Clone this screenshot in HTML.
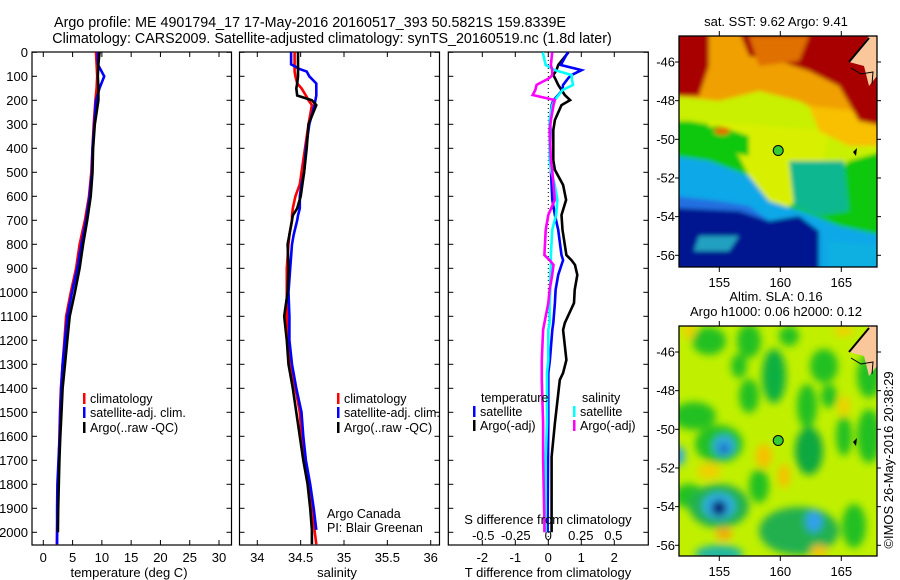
<!DOCTYPE html>
<html><head><meta charset="utf-8"><style>
html,body{margin:0;padding:0;background:#fff;}
svg{display:block;font-family:"Liberation Sans","DejaVu Sans",sans-serif;}
text{fill:#000;}
</style></head><body>
<svg id="fig" width="900" height="580" viewBox="0 0 900 580" xmlns="http://www.w3.org/2000/svg">
<defs>
<filter id="b1" x="-20%" y="-20%" width="140%" height="140%"><feGaussianBlur stdDeviation="2"/></filter>
<filter id="b2" x="-50%" y="-50%" width="200%" height="200%"><feGaussianBlur stdDeviation="4"/></filter>
<clipPath id="cm1"><rect x="679" y="36" width="198" height="231"/></clipPath>
<clipPath id="cm2"><rect x="679" y="326" width="198" height="230"/></clipPath>
<clipPath id="cp1"><rect x="32" y="52" width="200" height="493"/></clipPath>
<clipPath id="cp2"><rect x="240" y="52" width="200" height="493"/></clipPath>
<clipPath id="cp3"><rect x="448" y="52" width="200" height="493"/></clipPath>
</defs>
<text x="310" y="27" font-size="14.3" text-anchor="middle">Argo profile: ME 4901794_17 17-May-2016 20160517_393 50.5821S 159.8339E</text>
<text x="332" y="43" font-size="14.3" text-anchor="middle">Climatology: CARS2009. Satellite-adjusted climatology: synTS_20160519.nc (1.8d later)</text>
<g id="p1"></g>
<g id="p2"></g>
<g id="p3"></g>
<g id="m1"></g>
<g id="m2"></g>
<text x="776" y="26" font-size="13" text-anchor="middle">sat. SST: 9.62 Argo: 9.41</text>
<text x="776" y="301" font-size="13" text-anchor="middle">Altim. SLA: 0.16</text>
<text x="776" y="316" font-size="13" text-anchor="middle">Argo h1000: 0.06 h2000: 0.12</text>
<text transform="translate(893,460) rotate(-90)" font-size="13" text-anchor="middle">©IMOS 26-May-2016 20:38:29</text>
</svg>
<script>
// ---------- data ----------
const depthTicks=[0,100,200,300,400,500,600,700,800,900,1000,1100,1200,1300,1400,1500,1600,1700,1800,1900,2000];
const tempTicks=[0,5,10,15,20,25,30];
const salTicks=[34,34.5,35,35.5,36];
const tdiffTicks=[-2,-1,0,1,2];
const sdiffTicks=[-0.5,-0.25,0,0.25,0.5];
const sdiffLabels=["-0.5","-0.25","0","0.25","0.5"];
const tDepth=[0,50,100,150,200,300,400,500,600,700,800,900,1000,1100,1200,1300,1400,1500,1600,1700,1800,1900,2000,2050];
const tClim=[9.0,9.1,9.2,9.1,8.9,8.6,8.4,8.2,7.8,7.1,6.2,5.6,4.7,3.9,3.6,3.3,3.0,2.85,2.75,2.65,2.55,2.45,2.35,2.3];
const tSat=[9.3,9.3,10.4,9.6,9.0,8.7,8.4,8.3,7.9,7.3,6.5,5.8,4.9,4.1,3.7,3.3,3.05,2.9,2.8,2.6,2.4,2.35,2.35,2.35];
const tArgo=[9.6,9.4,9.3,9.4,9.4,8.8,8.5,8.4,8.1,7.5,6.8,6.2,5.4,4.5,4.1,3.7,3.3,3.1,2.9,2.75,2.65,2.55,2.5,2.5];
const sDepth=[0,50,70,80,100,130,150,180,200,220,300,400,500,550,600,650,680,700,760,800,900,1000,1100,1200,1300,1400,1500,1600,1700,1800,1900,1990,2050];
const sClim=[34.43,34.43,34.43,34.43,34.44,34.46,34.51,34.56,34.59,34.63,34.59,34.55,34.51,34.49,34.44,34.41,34.40,34.40,34.37,34.36,34.34,34.34,34.34,34.36,34.38,34.44,34.49,34.51,34.55,34.60,34.63,34.66,34.68];
const sSat=[34.39,34.39,34.49,34.57,34.60,34.68,34.68,34.68,34.67,34.66,34.60,34.56,34.54,34.51,34.49,34.49,34.47,34.46,34.42,34.40,34.38,34.36,34.37,34.37,34.40,34.45,34.51,34.53,34.56,34.61,34.65,34.68,34.68];
const sArgo=[34.47,34.47,34.47,34.47,34.47,34.46,34.45,34.46,34.63,34.68,34.59,34.57,34.54,34.52,34.50,34.46,34.41,34.40,34.37,34.35,34.36,34.35,34.31,34.34,34.36,34.41,34.45,34.49,34.53,34.58,34.61,34.63,34.63];
const dDepthT=[0,53,74,95,107,136,157,178,199,220,282,324,450,490,553,615,678,740,845,866,886,928,990,1045,1128,1157,1282,1336,1365,1545,1686,1961,2000];
const dTsat=[0.59,0.38,1.01,0.7,0.61,0.45,0.42,0.3,0.16,0.1,0.06,0.06,0.06,0.08,0.1,0.12,0.2,0.3,0.4,0.45,0.4,0.3,0.22,0.2,0.15,0.12,0.05,0.0,0.0,0.0,-0.01,-0.02,-0.02];
const dTargo=[0.61,0.30,0.25,0.15,0.2,0.3,0.4,0.5,0.66,0.4,0.2,0.15,0.15,0.2,0.45,0.54,0.4,0.43,0.55,0.7,0.81,0.88,0.8,0.78,0.5,0.45,0.55,0.45,0.35,0.2,0.1,0.1,0.1];
const dSsat=[-0.043,-0.02,0.05,0.18,0.18,0.19,0.11,0.08,0.05,0.03,0.01,0.01,0.01,0.02,0.05,0.07,0.06,0.03,0.02,0.02,0.02,0.015,0.015,0.01,0.01,0.0,0.0,-0.01,-0.01,-0.01,-0.02,-0.02,-0.02];
const dSargo=[0.03,0.02,0.03,0.03,0.01,-0.09,-0.1,-0.12,0.05,0.04,0.02,0.01,0.02,0.03,0.04,0.05,0.0,-0.02,-0.03,0.01,0.04,0.03,0.01,0.0,-0.03,-0.04,-0.05,-0.05,-0.05,-0.04,-0.04,-0.03,-0.03];
const lonTicks=[155,160,165];
const latTicks=[-46,-48,-50,-52,-54,-56];
const argoLon=[159.83];
const argoLat=[-50.58];

// ---------- helpers ----------
const NS="http://www.w3.org/2000/svg";
function mk(parent,tag,attrs,txt){const e=document.createElementNS(NS,tag);for(const k in attrs)e.setAttribute(k,attrs[k]);if(txt!==undefined)e.textContent=txt;parent.appendChild(e);return e;}
const Y0=52.3, YS=0.24, TOP=52, BOT=545;
const yD=d=>Y0+d*YS;
const xT=v=>43.3+v*5.857;
const xS=v=>257.3+(v-34)*86.7;
const xDT=v=>548.3+v*33;
const xDS=v=>548.3+v*130;
const FS=13;

function frame(g,x0,x1,showLabels){
  const r=mk(g,'rect',{x:x0,y:TOP,width:x1-x0,height:BOT-TOP,fill:'none',stroke:'#000','stroke-width':1.2});
  
  
  depthTicks.forEach(d=>{
    const y=yD(d);
    mk(g,'line',{x1:x0,x2:x0+5,y1:y,y2:y,stroke:'#000'});
    mk(g,'line',{x1:x1-5,x2:x1,y1:y,y2:y,stroke:'#000'});
    if(showLabels){
      const t=mk(g,'text',{x:28,y:y+4.5,'font-size':FS,'text-anchor':'end'},String(d));
      
      
    }
  });
}
function xticks(g,vals,fx,labels,ly){
  vals.forEach((v,i)=>{
    const x=fx(v);
    mk(g,'line',{x1:x,x2:x,y1:BOT,y2:BOT-5,stroke:'#000'});
    mk(g,'line',{x1:x,x2:x,y1:TOP,y2:TOP+5,stroke:'#000'});
    const t=mk(g,'text',{x:x,y:ly,'font-size':FS,'text-anchor':'middle'},labels?labels[i]:String(v));
    
    
  });
}
function line(g,xs,ds,fx,col,name,clip){
  const pts=xs.map((v,i)=>fx(v).toFixed(1)+','+yD(ds[i]).toFixed(1)).join(' ');
  const p=mk(g,'polyline',{points:pts,fill:'none',stroke:col,'stroke-width':2.6,'stroke-linejoin':'miter','clip-path':'url(#'+clip+')'});
  
  
}
function legend(g,x,y,col,label,name){
  mk(g,'rect',{x:x,y:y-10,width:2.5,height:11,fill:col});
  const t=mk(g,'text',{x:x+7,y:y,'font-size':12.5},label);
  
  
}

// ---------- panel 1: temperature ----------
const p1=document.getElementById('p1');
frame(p1,32,231.5,true);
xticks(p1,tempTicks,xT,null,562);
line(p1,tClim,tDepth,xT,'#f00','temp-climatology-line','cp1');
line(p1,tSat,tDepth,xT,'#00f','temp-satellite-line','cp1');
line(p1,tArgo,tDepth.slice(0,23),xT,'#000','temp-argo-line','cp1');
legend(p1,83,403,'#f00','climatology','legend-climatology');
legend(p1,83,417,'#00f','satellite-adj. clim.','legend-satellite');
legend(p1,83,432,'#000','Argo(..raw -QC)','legend-argo');
mk(p1,'text',{x:129,y:577,'font-size':FS,'text-anchor':'middle'},'temperature (deg C)');

// ---------- panel 2: salinity ----------
const p2=document.getElementById('p2');
frame(p2,239.5,439.5,false);
xticks(p2,salTicks,xS,null,562);
line(p2,sClim,sDepth,xS,'#f00','sal-climatology-line','cp2');
line(p2,sSat,sDepth.slice(0,32),xS,'#00f','sal-satellite-line','cp2');
line(p2,sArgo,sDepth,xS,'#000','sal-argo-line','cp2');
legend(p2,337,403,'#f00','climatology','legend-climatology-2');
legend(p2,337,417,'#00f','satellite-adj. clim.','legend-satellite-2');
legend(p2,337,432,'#000','Argo(..raw -QC)','legend-argo-2');
mk(p2,'text',{x:327,y:518,'font-size':12.5},'Argo Canada');
mk(p2,'text',{x:327,y:532,'font-size':12.5},'PI: Blair Greenan');
mk(p2,'text',{x:337,y:577,'font-size':FS,'text-anchor':'middle'},'salinity');

// ---------- panel 3: differences ----------
const p3=document.getElementById('p3');
frame(p3,448.3,648.3,false);
xticks(p3,tdiffTicks,xDT,null,562);
sdiffTicks.forEach((v,i)=>{
  const t=mk(p3,'text',{x:xDS(v),y:540,'font-size':FS,'text-anchor':'middle'},sdiffLabels[i]);
  
  
});
mk(p3,'line',{x1:548.3,x2:548.3,y1:TOP,y2:BOT,stroke:'#000','stroke-dasharray':'1,3'});
line(p3,dTargo,dDepthT,xDT,'#000','tdiff-argo-line','cp3');
line(p3,dTsat,dDepthT,xDT,'#00f','tdiff-satellite-line','cp3');
line(p3,dSsat,dDepthT,xDS,'#0ff','sdiff-satellite-line','cp3');
line(p3,dSargo,dDepthT,xDS,'#f0f','sdiff-argo-line','cp3');
mk(p3,'text',{x:481,y:402,'font-size':12.5},'temperature');
mk(p3,'text',{x:582,y:402,'font-size':12.5},'salinity');
legend(p3,473,416,'#00f','satellite','legend-tdiff-satellite');
legend(p3,473,430,'#000','Argo(-adj)','legend-tdiff-argo');
legend(p3,573,416,'#0ff','satellite','legend-sdiff-satellite');
legend(p3,573,430,'#f0f','Argo(-adj)','legend-sdiff-argo');
mk(p3,'text',{x:548,y:524,'font-size':FS,'text-anchor':'middle'},'S difference from climatology');
mk(p3,'text',{x:548,y:577,'font-size':FS,'text-anchor':'middle'},'T difference from climatology');

// ---------- maps ----------
const MX=679,MW=198;
const lonX=l=>719.3+(l-155)*12.2;
function mapAxes(g,top,h,clip){
  const latY=la=>top+26+(-46-la)*19.33;
  mk(g,'rect',{x:MX,y:top,width:MW,height:h,fill:'none',stroke:'#000','stroke-width':1.3});
  lonTicks.forEach(l=>{
    const x=lonX(l);
    mk(g,'line',{x1:x,x2:x,y1:top-5,y2:top,stroke:'#000'});
    mk(g,'line',{x1:x,x2:x,y1:top+h,y2:top+h+5,stroke:'#000'});
    const t=mk(g,'text',{x:x,y:top+h+20,'font-size':FS,'text-anchor':'middle'},String(l));
    
    
  });
  latTicks.forEach(la=>{
    const y=latY(la);
    mk(g,'line',{x1:MX-4,x2:MX,y1:y,y2:y,stroke:'#000'});
    mk(g,'line',{x1:MX+MW,x2:MX+MW+4,y1:y,y2:y,stroke:'#000'});
    const t=mk(g,'text',{x:MX-4,y:y+4.5,'font-size':FS,'text-anchor':'end'},String(la));
    
    
  });
  const c=mk(g,'circle',{cx:lonX(argoLon[0]),cy:latY(argoLat[0]),r:5,fill:'#3c3',stroke:'#000','stroke-width':1});
  
  
}
function coast(g,top){
  mk(g,'polygon',{points:`${MX+170},${top+26} ${MX+190},${top} ${MX+198},${top} ${MX+198},${top+40} ${MX+190},${top+50} ${MX+185},${top+30}`,fill:'#f9c79a'});
  mk(g,'polyline',{points:`${MX+170},${top+26} ${MX+180},${top+14} ${MX+190},${top+2}`,fill:'none',stroke:'#000','stroke-width':2});
  mk(g,'polyline',{points:`${MX+172},${top+32} ${MX+182},${top+38} ${MX+194},${top+36} ${MX+193},${top+48}`,fill:'none',stroke:'#000','stroke-width':1});
  mk(g,'polygon',{points:`${MX+174},${top+116} ${MX+178},${top+112} ${MX+177},${top+120}`,fill:'#000'});
}
// SST map
const m1=document.getElementById('m1');
const g1=mk(m1,'g',{'clip-path':'url(#cm1)'});
const g1b=mk(g1,'g',{filter:'url(#b1)'});
const T1=36;
const P=(pts)=>pts.map(p=>(MX+p[0])+','+(T1+p[1])).join(' ');
mk(g1b,'rect',{x:MX-5,y:T1-5,width:MW+10,height:241,fill:'#10c810'});
mk(g1b,'polygon',{points:P([[-5,-5],[205,-5],[205,115],[170,125],[150,145],[130,120],[100,110],[70,95],[40,90],[10,85],[-5,85]]),fill:'#c8f000'});
mk(g1b,'polygon',{points:P([[30,85],[150,95],[140,150],[110,170],[100,190],[80,160],[60,120],[30,100]]),fill:'#d8f000'});
mk(g1b,'polygon',{points:P([[-5,-5],[205,-5],[205,110],[180,100],[150,80],[120,65],[80,55],[40,65],[-5,60]]),fill:'#f0a000'});
mk(g1b,'polygon',{points:P([[130,70],[180,75],[205,90],[205,110],[170,110],[140,95]]),fill:'#f8c000'});
mk(g1b,'polygon',{points:P([[-5,-5],[30,-5],[30,30],[20,60],[-5,60]]),fill:'#a80000'});
mk(g1b,'polygon',{points:P([[60,-5],[205,-5],[205,90],[180,85],[160,50],[130,35],[100,25],[70,20]]),fill:'#a80000'});
mk(g1b,'polygon',{points:P([[70,0],[130,0],[120,25],[80,30]]),fill:'#e07000'});
mk(g1b,'polygon',{points:P([[-5,95],[40,90],[70,100],[70,120],[40,115],[-5,110]]),fill:'#10c810'});
mk(g1b,'polygon',{points:P([[110,125],[165,125],[170,175],[140,180],[115,170]]),fill:'#10b890'});
mk(g1b,'polygon',{points:P([[-5,120],[30,125],[70,140],[90,165],[130,178],[160,190],[205,200],[205,240],[-5,240]]),fill:'#10a8e8'});
mk(g1b,'polygon',{points:P([[-5,160],[40,165],[70,170],[90,185],[-5,190]]),fill:'#2070e0'});
mk(g1b,'polygon',{points:P([[-5,172],[60,175],[90,185],[120,180],[140,195],[140,240],[-5,240]]),fill:'#001890'});
mk(g1b,'polygon',{points:P([[20,200],[60,200],[50,215],[15,215]]),fill:'#20a0c0'});
mk(g1b,'polygon',{points:P([[150,205],[205,210],[205,240],[150,240]]),fill:'#10b0e0'});
mk(g1b,'ellipse',{cx:MX+43,cy:T1+95,rx:8,ry:4,fill:'#e07000'});
coast(g1,T1);
mapAxes(m1,36,231,'cm1');
// SLA map
const m2=document.getElementById('m2');
const g2=mk(m2,'g',{'clip-path':'url(#cm2)'});
const T2=326;
mk(g2,'rect',{x:MX,y:T2,width:MW,height:230,fill:'#c0f000'});
const g2b=mk(g2,'g',{filter:'url(#b2)'});
const blobs=[[30,15,17,14,'#20c020'],[70,15,12,17,'#20c020'],[110,10,10,10,'#20c020'],[95,50,12,27,'#10b040'],[145,40,14,17,'#20c020'],[190,50,12,22,'#20c020'],[70,70,10,17,'#20c020'],[128,80,10,22,'#20c020'],[165,110,8,20,'#20c020'],[190,110,12,27,'#20c020'],[130,125,14,24,'#10a840'],[15,90,22,14,'#20c020'],[40,118,24,19,'#20c020'],[45,120,11,11,'#30a8e0'],[45,123,5,5,'#1060c0'],[0,130,6,10,'#30a8e0'],[10,170,15,12,'#20c020'],[40,180,30,22,'#20b050'],[40,180,16,13,'#30b0e8'],[40,182,8,8,'#001070'],[80,160,10,17,'#20c020'],[120,205,40,24,'#20b050'],[135,195,8,11,'#30a0f0'],[40,228,24,9,'#20b8a0'],[175,200,12,22,'#20c020'],[60,40,8,12,'#20c020'],[150,70,8,12,'#20c020'],[85,130,8,12,'#f8c000'],[105,150,6,12,'#f8c000'],[45,208,8,6,'#f8a800'],[30,145,12,8,'#f0d000'],[165,5,10,5,'#f0d000'],[140,225,8,6,'#f8c000'],[10,5,6,8,'#f0d000'],[165,80,6,10,'#f0d000']];
blobs.forEach(b=>mk(g2b,'ellipse',{cx:MX+b[0],cy:T2+b[1],rx:b[2],ry:b[3],fill:b[4]}));
coast(g2,T2);
mapAxes(m2,326,230,'cm2');
</script>
</body></html>
